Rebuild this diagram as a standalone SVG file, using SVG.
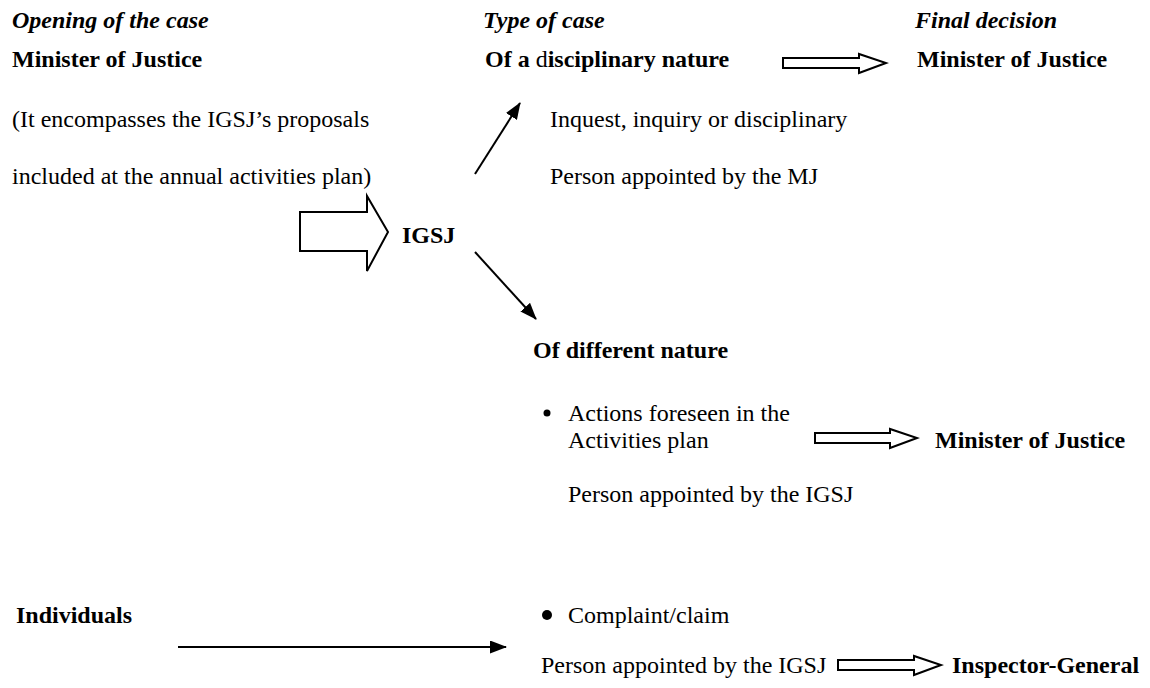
<svg xmlns="http://www.w3.org/2000/svg" width="1150" height="688" viewBox="0 0 1150 688">
<style>
text{font-family:"Liberation Serif","Times New Roman",serif;font-size:24px;fill:#000}
.b{font-weight:bold}
.bi{font-weight:bold;font-style:italic}
.n{font-weight:normal}
.hollow{fill:#fff;stroke:#000;stroke-width:2;stroke-linejoin:miter}
.thin{fill:none;stroke:#000;stroke-width:2}
</style>
<defs>
<marker id="ah" viewBox="0 0 17 13" refX="16" refY="6.5" markerWidth="17" markerHeight="13" markerUnits="userSpaceOnUse" orient="auto">
<path d="M0,0 L17,6.5 L0,13 Z" fill="#000"/>
</marker>
</defs>
<rect width="1150" height="688" fill="#fff"/>
<g id="headers">
<text class="bi" x="12" y="28">Opening of the case</text>
<text class="bi" x="483" y="28">Type of case</text>
<text class="bi" x="915" y="28">Final decision</text>
</g>
<g id="node-minister-opening">
<text class="b" x="12" y="67">Minister of Justice</text>
<text x="12" y="127">(It encompasses the IGSJ’s proposals</text>
<text x="12" y="184">included at the annual activities plan)</text>
</g>
<g id="node-igsj">
<text class="b" x="402" y="243">IGSJ</text>
</g>
<g id="node-disciplinary">
<text class="b" x="485" y="67">Of a <tspan class="n">d</tspan>isciplinary nature</text>
<text x="550" y="127">Inquest, inquiry or disciplinary</text>
<text x="550" y="184">Person appointed by the MJ</text>
</g>
<g id="node-final-1">
<text class="b" x="917" y="67">Minister of Justice</text>
</g>
<g id="node-different">
<text class="b" x="533" y="358">Of different nature</text>
<circle cx="547" cy="413" r="3.5" fill="#000"/>
<text x="568" y="421">Actions foreseen in the</text>
<text x="568" y="448">Activities plan</text>
<text x="568" y="502">Person appointed by the IGSJ</text>
</g>
<g id="node-final-2">
<text class="b" x="935" y="448">Minister of Justice</text>
</g>
<g id="node-individuals">
<text class="b" x="16" y="623">Individuals</text>
</g>
<g id="node-complaint">
<circle cx="547" cy="615" r="5" fill="#000"/>
<text x="568" y="623">Complaint/claim</text>
<text x="541" y="673">Person appointed by the IGSJ</text>
</g>
<g id="node-inspector">
<text class="b" x="952" y="673">Inspector-General</text>
</g>
<g id="connectors">
<polygon class="hollow" points="300,212 367,212 367,196 388,232 367,271 367,251 300,251"/>
<line class="thin" x1="475" y1="174" x2="520" y2="103" marker-end="url(#ah)"/>
<line class="thin" x1="475" y1="252" x2="536" y2="319" marker-end="url(#ah)"/>
<line class="thin" x1="178" y1="647" x2="506" y2="647" marker-end="url(#ah)"/>
<polygon class="hollow" points="783,58 859,58 859,54 886,63 859,73 859,68 783,68"/>
<polygon class="hollow" points="815,433 890,433 890,429 917,438 890,448 890,443 815,443"/>
<polygon class="hollow" points="838,660 914,660 914,656 941,665 914,675 914,670 838,670"/>
</g>
</svg>
